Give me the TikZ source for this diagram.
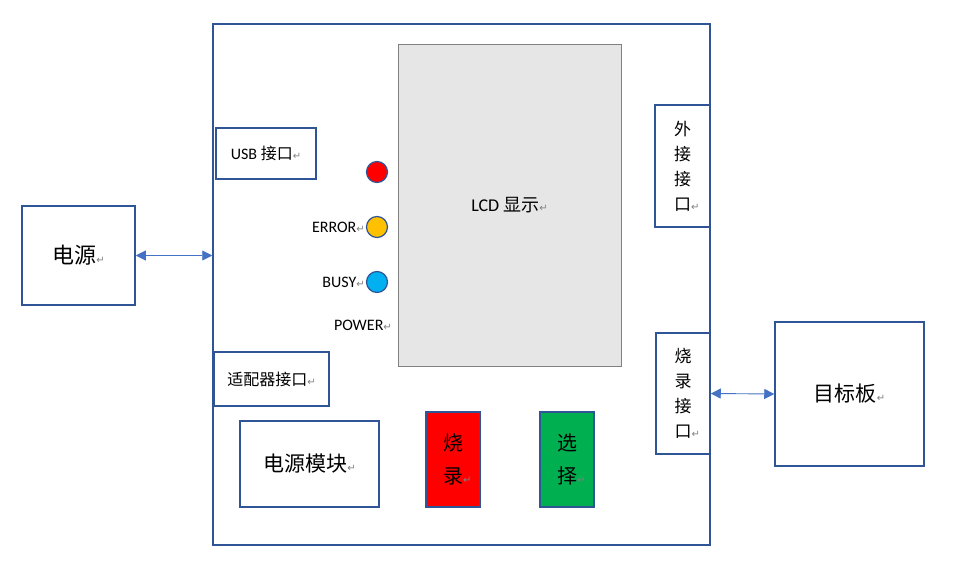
\documentclass[tikz,border=0pt]{standalone}
\usepackage{fontspec}
\setmainfont{Carlito}
\newfontfamily\cjk{Noto Sans CJK SC}
\newfontfamily\symfont{DejaVu Sans}
\usepackage{tikz}
\usetikzlibrary{arrows.meta,positioning}
\usepackage{xcolor}
\definecolor{frame}{HTML}{2F5597}
\definecolor{link}{HTML}{4472C4}
\definecolor{lcdgrey}{HTML}{E6E6E6}
\definecolor{ledred}{HTML}{FF0000}
\definecolor{ledyellow}{HTML}{FFC000}
\definecolor{ledblue}{HTML}{00B0F0}
\definecolor{keygreen}{HTML}{00B050}
\newcommand{\pmark}{{\symfont\color{gray}\fontsize{10}{10}\selectfont ↵}}
\newcommand{\sz}[1]{\fontsize{#1}{#1}\selectfont}

\tikzset{
  blk/.style={draw=frame, line width=1.5pt, inner sep=0pt, align=center},
  led/.style={circle, draw=frame, line width=1.2pt, minimum size=21pt, inner sep=0pt},
  ledtext/.style={inner sep=0pt, font=\sz{16}},
  dual/.style={link, line width=0.9pt, {Triangle[length=10pt,width=10pt]}-{Triangle[length=10pt,width=10pt]}}
}

\begin{document}
\begin{tikzpicture}[x=1pt, y=-1pt]
  \useasboundingbox (0,0) rectangle (953,567);

  % board
  \node[blk, minimum width=497, minimum height=521] (board) at (461.5,284.5) {};

  % left side
  \node[blk, minimum width=113, minimum height=99, font=\sz{22}] (power) at (78.5,255.5) {\cjk 电源\pmark};
  \node[blk, minimum width=100, minimum height=51, font=\sz{16}] (usb) at (266,153.5) {USB {\cjk 接口}\pmark};
  \node[blk, minimum width=115, minimum height=54, font=\sz{16}] (adapter) at (271.5,379) {\cjk 适配器接口\pmark};
  \node[blk, minimum width=139, minimum height=86, font=\sz{21}] (pwrmod) at (309.5,464) {\cjk 电源模块\pmark};

  % lcd
  \node[draw=gray, fill=lcdgrey, line width=0.8pt, minimum width=223, minimum height=322, inner sep=0pt, font=\sz{18}] (lcd) at (509.5,205) {LCD {\cjk 显示}\pmark};

  % leds
  \node[led, fill=ledred] (ledpwr) at (377,172) {};
  \node[led, fill=ledyellow] (lederr) at (377,227) {};
  \node[led, fill=ledblue] (ledbusy) at (377,282) {};
  \node[ledtext, left=1pt of lederr] (lblerr) {ERROR\pmark};
  \node[ledtext, left=1pt of ledbusy] (lblbusy) {BUSY\pmark};
  \node[ledtext, anchor=east] (lblpwr) at (392,325) {POWER\pmark};

  % ports
  \node[blk, minimum width=55, minimum height=122, font=\sz{17}] (extport) at (682.5,166)
    {\cjk 外\\[8pt]\cjk 接\\[8pt]\cjk 接\\[8pt]\cjk 口\rlap{\pmark}};
  \node[blk, minimum width=54, minimum height=121, font=\sz{17}] (burnport) at (683,393.5)
    {\cjk 烧\\[8pt]\cjk 录\\[8pt]\cjk 接\\[8pt]\cjk 口\rlap{\pmark}};
  \node[blk, minimum width=149, minimum height=144, font=\sz{21}] (target) at (849.5,394) {\cjk 目标板\pmark};

  % keys
  \node[blk, fill=ledred, minimum width=54, minimum height=95, font=\sz{20}] (burnkey) at (453,459.5)
    {\cjk 烧\\[13pt]\cjk 录\rlap{\pmark}};
  \node[blk, fill=keygreen, minimum width=54, minimum height=95, font=\sz{20}] (selkey) at (567,459.5)
    {\cjk 选\\[13pt]\cjk 择\rlap{\pmark}};

  % links
  \draw[dual] (power.east) -- (power.east -| board.west);
  \draw[dual] (burnport.east) -- (target.west);
\end{tikzpicture}
\end{document}
